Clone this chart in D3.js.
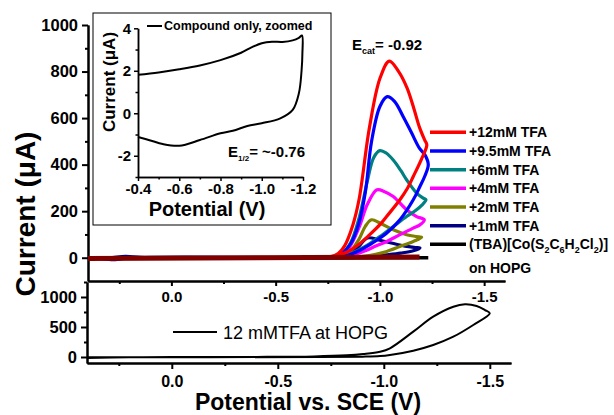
<!DOCTYPE html>
<html>
<head>
<meta charset="utf-8">
<script src="https://cdn.jsdelivr.net/npm/d3@7"></script>
<style>
body { margin: 0; background: #fff; }
svg { font-family: "Liberation Sans", Arial, sans-serif; font-weight: bold; }
.axis path, .axis line { stroke: #000; stroke-width: 2; }
.axis text { fill: #000; font-weight: bold; font-family: "Liberation Sans", Arial, sans-serif; }
.inset .axis path, .inset .axis line { stroke-width: 1.5; }
</style>
</head>
<body>
<svg id="chart" width="614" height="415"></svg>
<script>
// potential (V) / current (uA) pairs
var tfa12 = [[0.4,0],[-0.5,0],[-0.72,1],[-0.76,4],[-0.8,18],[-0.83,50],[-0.87,140],[-0.9,250],[-0.95,560],[-1.0,770],[-1.045,845],[-1.09,800],[-1.13,730],[-1.16,650],[-1.19,560],[-1.215,505],[-1.225,485],
  [-1.2,425],[-1.16,349],[-1.13,295],[-1.096,249],[-1.033,178],[-1.0,142],[-0.95,98],[-0.9,58],[-0.85,28],[-0.8,10],[-0.75,3],[-0.7,0],[0.4,0]];
var tfa9 = [[0.4,0],[-0.5,0],[-0.74,1],[-0.78,5],[-0.82,20],[-0.86,60],[-0.9,150],[-0.93,280],[-0.96,500],[-1.0,650],[-1.035,692],[-1.07,672],[-1.112,606],[-1.15,540],[-1.19,470],[-1.216,442],[-1.232,400],
  [-1.215,350],[-1.192,306],[-1.16,249],[-1.096,163],[-1.033,106],[-1.0,85],[-0.95,55],[-0.9,30],[-0.85,12],[-0.8,4],[-0.75,0],[0.4,0]];
var tfa6 = [[0.4,0],[-0.5,0],[-0.74,1],[-0.78,5],[-0.82,20],[-0.86,65],[-0.9,170],[-0.94,330],[-0.97,430],[-1.0,460],[-1.03,450],[-1.064,420],[-1.1,375],[-1.128,335],[-1.176,278],[-1.208,256],[-1.221,249],
  [-1.2,225],[-1.176,206],[-1.128,177],[-1.064,134],[-1.0,91],[-0.95,60],[-0.9,35],[-0.85,15],[-0.8,5],[-0.75,0],[0.4,0]];
var tfa4 = [[0.4,0],[-0.5,0],[-0.75,1],[-0.8,8],[-0.85,40],[-0.9,130],[-0.94,230],[-0.986,292],[-1.02,285],[-1.064,263],[-1.128,206],[-1.176,177],[-1.213,163],
  [-1.19,140],[-1.16,127],[-1.096,99],[-1.033,70],[-0.98,50],[-0.93,30],[-0.88,15],[-0.83,5],[-0.78,0],[0.4,0]];
var tfa2 = [[0.4,0],[-0.6,0],[-0.76,1],[-0.8,3],[-0.85,20],[-0.9,80],[-0.93,135],[-0.96,163],[-1.0,149],[-1.064,120],[-1.128,99],[-1.176,91],[-1.2,88],
  [-1.16,70],[-1.096,48],[-1.033,27],[-0.98,15],[-0.93,7],[-0.88,2],[-0.8,0],[0.4,0]];
var tfa1 = [[0.4,0],[0.3,0],[0.22,6],[0.15,2],[0,0],[-0.6,0],[-0.78,1],[-0.82,3],[-0.86,15],[-0.9,50],[-0.94,85],[-1.0,75],[-1.06,62],[-1.12,50],[-1.17,44],[-1.192,42],
  [-1.16,30],[-1.1,20],[-1.03,12],[-0.97,6],[-0.9,2],[-0.85,0],[0.2,0],[0.27,-8],[0.33,-4],[0.4,0]];
var compound = [[0.4,0],[-1.232,0]];
var blank = [[0.4,-3],[-1.19,3]];

var insetCV = [[-0.4,1.81],[-0.5,1.92],[-0.6,2.07],[-0.7,2.25],[-0.8,2.5],[-0.9,2.85],[-0.95,3.1],[-1.0,3.3],[-1.05,3.37],[-1.1,3.36],[-1.15,3.43],[-1.18,3.55],[-1.195,3.66],
  [-1.197,2.8],[-1.193,2.0],[-1.18,0.94],[-1.15,0.16],[-1.09,-0.24],[-1.0,-0.47],[-0.93,-0.6],[-0.86,-0.82],[-0.8,-0.94],[-0.7,-1.26],[-0.6,-1.53],[-0.52,-1.45],[-0.46,-1.28],[-0.4,-1.12]];

var hopgCV = [[0.4,-15],[0.2,-5],[0,0],[-0.4,2],[-0.67,10],[-0.825,28],[-0.903,50],[-0.982,88],[-1.029,145],[-1.139,422],[-1.233,672],[-1.328,838],[-1.383,878],[-1.438,850],[-1.477,783],[-1.5,728],
  [-1.422,533],[-1.328,338],[-1.233,200],[-1.139,105],[-1.029,33],[-0.982,15],[-0.9,6],[-0.7,0],[0.4,-5]];

var seriesLabels = ['+12mM TFA', '+9.5mM TFA', '+6mM TFA', '+4mM TFA', '+2mM TFA', '+1mM TFA'];
var seriesData = [tfa12, tfa9, tfa6, tfa4, tfa2, tfa1];
var seriesColors = ['#ff0000', '#0000ff', '#008080', '#ff00ff', '#808000', '#000080'];

var potTicks = [0, -0.5, -1.0, -1.5];
var potLabels = ['0.0', '-0.5', '-1.0', '-1.5'];
var potMinor = [0.25, -0.25, -0.75, -1.25];
var curTicks = [0, 200, 400, 600, 800, 1000];
var curLabels = ['0', '200', '400', '600', '800', '1000'];
var curMinor = [100, 300, 500, 700, 900];
var hopgTicks = [0, 500, 1000];
var hopgLabels = ['0', '500', '1000'];
var hopgMinor = [250, 750, 1250];
var insetXTicks = [-0.4, -0.6, -0.8, -1.0, -1.2];
var insetXLabels = ['-0.4', '-0.6', '-0.8', '-1.0', '-1.2'];
var insetXMinor = [-0.5, -0.7, -0.9, -1.1];
var insetYTicks = [-2, 0, 2, 4];
var insetYLabels = ['-2', '0', '2', '4'];
var insetYMinor = [-3, -1, 1, 3];

var svg = d3.select('#chart');

var x = d3.scaleLinear().domain([0.4, -1.6]).range([88, 505]);
var y = d3.scaleLinear().domain([-100, 1000]).range([281, 25]);
var xb = d3.scaleLinear().domain([0.4, -1.6]).range([87, 511]);
var yb = d3.scaleLinear().domain([-100, 1250]).range([363, 282]);
var xi = d3.scaleLinear().domain([-0.4, -1.2]).range([138, 303]);
var yi = d3.scaleLinear().domain([-3, 4]).range([177, 28.3]);

function lineFor(xs, ys) {
  return d3.line().x(d => xs(d[0])).y(d => ys(d[1])).curve(d3.curveCatmullRom.alpha(0.5));
}

function addAxis(g, axis, fontSize) {
  g.attr('class', 'axis').call(axis);
  g.selectAll('text').style('font-size', fontSize + 'px');
  return g;
}

// ---- top panel axes
addAxis(svg.append('g').attr('transform', 'translate(88,0)'),
  d3.axisLeft(y).tickValues(curTicks).tickSize(6).tickSizeOuter(0).tickPadding(4)
    .tickFormat((d, i) => curLabels[i]), 16.5);
addAxis(svg.append('g').attr('transform', 'translate(88,0)'),
  d3.axisLeft(y).tickValues(curMinor).tickSize(3).tickSizeOuter(0).tickFormat(''), 10);
addAxis(svg.append('g').attr('transform', 'translate(0,281)'),
  d3.axisBottom(x).tickValues(potTicks).tickSize(5).tickSizeOuter(0).tickPadding(5)
    .tickFormat((d, i) => potLabels[i]), 15);
addAxis(svg.append('g').attr('transform', 'translate(0,281)'),
  d3.axisBottom(x).tickValues(potMinor).tickSize(3).tickSizeOuter(0).tickFormat(''), 10);

// ---- bottom panel axes
addAxis(svg.append('g').attr('transform', 'translate(87,0)'),
  d3.axisLeft(yb).tickValues(hopgTicks).tickSize(6).tickSizeOuter(0).tickPadding(4)
    .tickFormat((d, i) => hopgLabels[i]), 16.5);
addAxis(svg.append('g').attr('transform', 'translate(87,0)'),
  d3.axisLeft(yb).tickValues(hopgMinor).tickSize(3).tickSizeOuter(0).tickFormat(''), 10);
addAxis(svg.append('g').attr('transform', 'translate(0,363)'),
  d3.axisBottom(xb).tickValues(potTicks).tickSize(6).tickSizeOuter(0).tickPadding(7)
    .tickFormat((d, i) => potLabels[i]), 16);
addAxis(svg.append('g').attr('transform', 'translate(0,363)'),
  d3.axisBottom(xb).tickValues(potMinor).tickSize(3).tickSizeOuter(0).tickFormat(''), 10);

// ---- top panel curves
var topLine = lineFor(x, y);
svg.append('path').datum(compound).attr('d', topLine)
  .attr('fill', 'none').attr('stroke', '#000').attr('stroke-width', 3.5);
for (var i = seriesData.length - 1; i >= 0; i--) {
  svg.append('path').datum(seriesData[i]).attr('d', topLine)
    .attr('fill', 'none').attr('stroke', seriesColors[i]).attr('stroke-width', 3.2)
    .attr('stroke-linejoin', 'round');
}
svg.append('path').datum(blank).attr('d', topLine)
  .attr('fill', 'none').attr('stroke', '#800000').attr('stroke-width', 5);

// legend
var legend = svg.append('g');
seriesLabels.forEach((name, i) => {
  var ly = 132.3 + i * 18.67;
  legend.append('line').attr('x1', 430).attr('x2', 466).attr('y1', ly).attr('y2', ly)
    .attr('stroke', seriesColors[i]).attr('stroke-width', 3.5);
  legend.append('text').attr('x', 469).attr('y', ly + 5).style('font-size', '14px').text(name);
});
var ly7 = 132.3 + 6 * 18.67;
legend.append('line').attr('x1', 430).attr('x2', 466).attr('y1', ly7).attr('y2', ly7)
  .attr('stroke', '#000').attr('stroke-width', 3.5);
var tba = legend.append('text').attr('x', 469).attr('y', ly7 + 5).style('font-size', '14px');
[['(TBA)[Co(S', 0], ['2', 1], ['C', 0], ['6', 1], ['H', 0], ['2', 1], ['Cl', 0], ['2', 1], [')]', 0]]
  .forEach((p, k, arr) => {
    var prev = k > 0 ? arr[k - 1][1] : 0;
    var dy = p[1] && !prev ? 4 : (!p[1] && prev ? -4 : 0);
    tba.append('tspan').attr('dy', dy).style('font-size', p[1] ? '9px' : '14px').text(p[0]);
  });
legend.append('text').attr('x', 469).attr('y', 273).style('font-size', '14px').text('on HOPG');

// E_cat label
var ecat = svg.append('text').attr('x', 352).attr('y', 50).style('font-size', '15px');
ecat.append('tspan').text('E');
ecat.append('tspan').attr('dy', 4).style('font-size', '9px').text('cat');
ecat.append('tspan').attr('dy', -4).text('= -0.92');

// ---- bottom panel curve
svg.append('path').datum(hopgCV).attr('d', lineFor(xb, yb))
  .attr('fill', 'none').attr('stroke', '#000').attr('stroke-width', 2);
svg.append('line').attr('x1', 173).attr('x2', 217).attr('y1', 332).attr('y2', 332)
  .attr('stroke', '#000').attr('stroke-width', 2);
svg.append('text').attr('x', 223).attr('y', 339).style('font-size', '18px')
  .style('font-weight', 'normal').text('12 mMTFA at HOPG');

// ---- axis titles
svg.append('text').attr('transform', 'translate(35,214) rotate(-90)')
  .attr('text-anchor', 'middle').style('font-size', '28px').text('Current (\u03bcA)');
svg.append('text').attr('x', 308).attr('y', 410).attr('text-anchor', 'middle')
  .style('font-size', '23px').text('Potential vs. SCE (V)');

// ---- inset
var inset = svg.append('g').attr('class', 'inset');
inset.append('rect').attr('x', 93).attr('y', 13).attr('width', 238).attr('height', 212)
  .attr('fill', '#fff').attr('stroke', '#000').attr('stroke-width', 1);
addAxis(inset.append('g').attr('transform', 'translate(138,0)'),
  d3.axisLeft(yi).tickValues(insetYTicks).tickSize(4).tickSizeOuter(0).tickPadding(3)
    .tickFormat((d, i) => insetYLabels[i]), 15);
addAxis(inset.append('g').attr('transform', 'translate(138,0)'),
  d3.axisLeft(yi).tickValues(insetYMinor).tickSize(2.5).tickSizeOuter(0).tickFormat(''), 10);
addAxis(inset.append('g').attr('transform', 'translate(0,177)'),
  d3.axisBottom(xi).tickValues(insetXTicks).tickSize(4).tickSizeOuter(0).tickPadding(2)
    .tickFormat((d, i) => insetXLabels[i]), 15);
addAxis(inset.append('g').attr('transform', 'translate(0,177)'),
  d3.axisBottom(xi).tickValues(insetXMinor).tickSize(2.5).tickSizeOuter(0).tickFormat(''), 10);
inset.append('path').datum(insetCV).attr('d', lineFor(xi, yi))
  .attr('fill', 'none').attr('stroke', '#000').attr('stroke-width', 2);
inset.append('line').attr('x1', 147).attr('x2', 162).attr('y1', 26).attr('y2', 26)
  .attr('stroke', '#000').attr('stroke-width', 2);
inset.append('text').attr('x', 164).attr('y', 30).style('font-size', '12.5px').text('Compound only, zoomed');
var ehalf = inset.append('text').attr('x', 228).attr('y', 157).style('font-size', '15px');
ehalf.append('tspan').text('E');
ehalf.append('tspan').attr('dy', 4).style('font-size', '8px').text('1/2');
ehalf.append('tspan').attr('dy', -4).text('= ~-0.76');
inset.append('text').attr('transform', 'translate(115,82) rotate(-90)')
  .attr('text-anchor', 'middle').style('font-size', '17px').text('Current (\u03bcA)');
inset.append('text').attr('x', 207).attr('y', 216).attr('text-anchor', 'middle')
  .style('font-size', '20px').text('Potential (V)');
</script>
</body>
</html>
